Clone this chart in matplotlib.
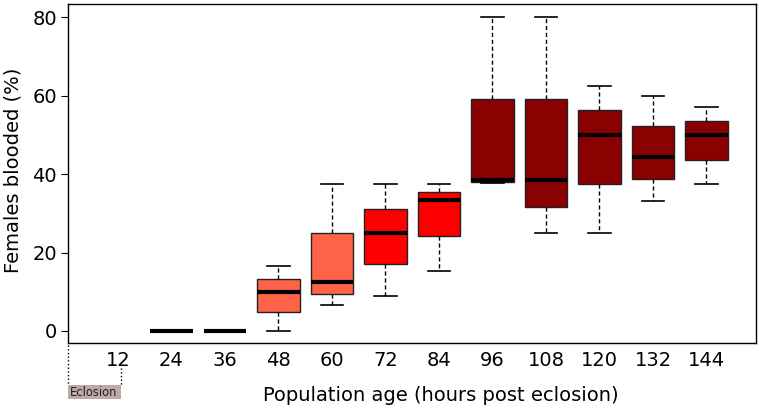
import matplotlib
matplotlib.use("Agg")
import matplotlib.pyplot as plt
from matplotlib.patches import Rectangle
import matplotlib.transforms as mtransforms

# hours post eclosion and blood-fed percentages
hours = [24, 36, 48, 60, 72, 84, 96, 108, 120, 132, 144]
whislo = [0, 0, 0.0, 6.5, 9.0, 15.4, 37.6, 25.0, 25.0, 33.2, 37.5]
q1 = [0, 0, 4.8, 9.4, 17.0, 24.3, 37.9, 31.7, 37.5, 38.8, 43.6]
med = [0, 0, 9.9, 12.4, 25.0, 33.4, 38.5, 38.5, 49.9, 44.4, 49.9]
q3 = [0, 0, 13.2, 25.0, 31.1, 35.4, 59.2, 59.2, 56.3, 52.2, 53.6]
whishi = [0, 0, 16.6, 37.5, 37.5, 37.5, 80.0, 80.0, 62.4, 60.0, 57.1]
colors = ["#FF6347", "#FF6347", "#FF6347", "#FF6347", "#FF0000", "#FF0000",
          "#8B0000", "#8B0000", "#8B0000", "#8B0000", "#8B0000"]
xticks = [12, 24, 36, 48, 60, 72, 84, 96, 108, 120, 132, 144]

fig = plt.figure(figsize=(7.59, 4.15), dpi=100)
ax = fig.add_axes([0.0896, 0.1735, 0.9064, 0.8165])

stats = []
for i in range(len(hours)):
    stats.append(dict(whislo=whislo[i], q1=q1[i], med=med[i], q3=q3[i],
                      whishi=whishi[i], fliers=[]))

bp = ax.bxp(stats, positions=hours, widths=9.6, patch_artist=True,
            showfliers=False,
            boxprops=dict(linewidth=1.0, edgecolor="#222222"),
            medianprops=dict(color="black", linewidth=3.0, solid_capstyle="butt"),
            whiskerprops=dict(linestyle=(0, (3, 2)), linewidth=1.0, color="black"),
            capprops=dict(linewidth=1.2, color="black"),
            capwidths=5.0)
for patch, c in zip(bp["boxes"], colors):
    patch.set_facecolor(c)
# zero-height boxes at 24/36 show only the median
for i in (0, 1):
    bp["boxes"][i].set_visible(False)
    for k in (2 * i, 2 * i + 1):
        bp["whiskers"][k].set_visible(False)
        bp["caps"][k].set_visible(False)

ax.set_xlim(0.8, 155.1)
ax.set_ylim(-3.06, 83.3)
ax.set_xticks(xticks)
ax.set_xticklabels([str(t) for t in xticks], fontsize=14)
ax.tick_params(axis="x", length=0, pad=6)
ax.set_yticks([0, 20, 40, 60, 80])
ax.tick_params(axis="y", labelsize=14, length=5, pad=3)
for s in ax.spines.values():
    s.set_linewidth(1.0)

ax.set_ylabel("Females blooded (%)", fontsize=14)
ax.yaxis.set_label_coords(-0.066, 0.51)
ax.set_xlabel("Population age (hours post eclosion)", fontsize=14)
ax.xaxis.set_label_coords(0.542, -0.128)

# eclosion marker below the axis
trans = mtransforms.blended_transform_factory(ax.transData, ax.transAxes)
ax.add_patch(Rectangle((0.8, -0.165), 11.8, 0.04, transform=trans,
                       facecolor="#bfa8a8", edgecolor="none", clip_on=False))
ax.text(1.2, -0.145, "Eclosion", transform=trans, fontsize=8.3,
        va="center", ha="left", color="#222222", clip_on=False)
ax.plot([0.8, 0.8], [-0.005, -0.125], transform=trans, color="black",
        linestyle=":", linewidth=1.0, clip_on=False)
ax.plot([12.6, 12.6], [-0.075, -0.125], transform=trans, color="black",
        linestyle=":", linewidth=1.0, clip_on=False)

fig.savefig("out.png", dpi=100)
